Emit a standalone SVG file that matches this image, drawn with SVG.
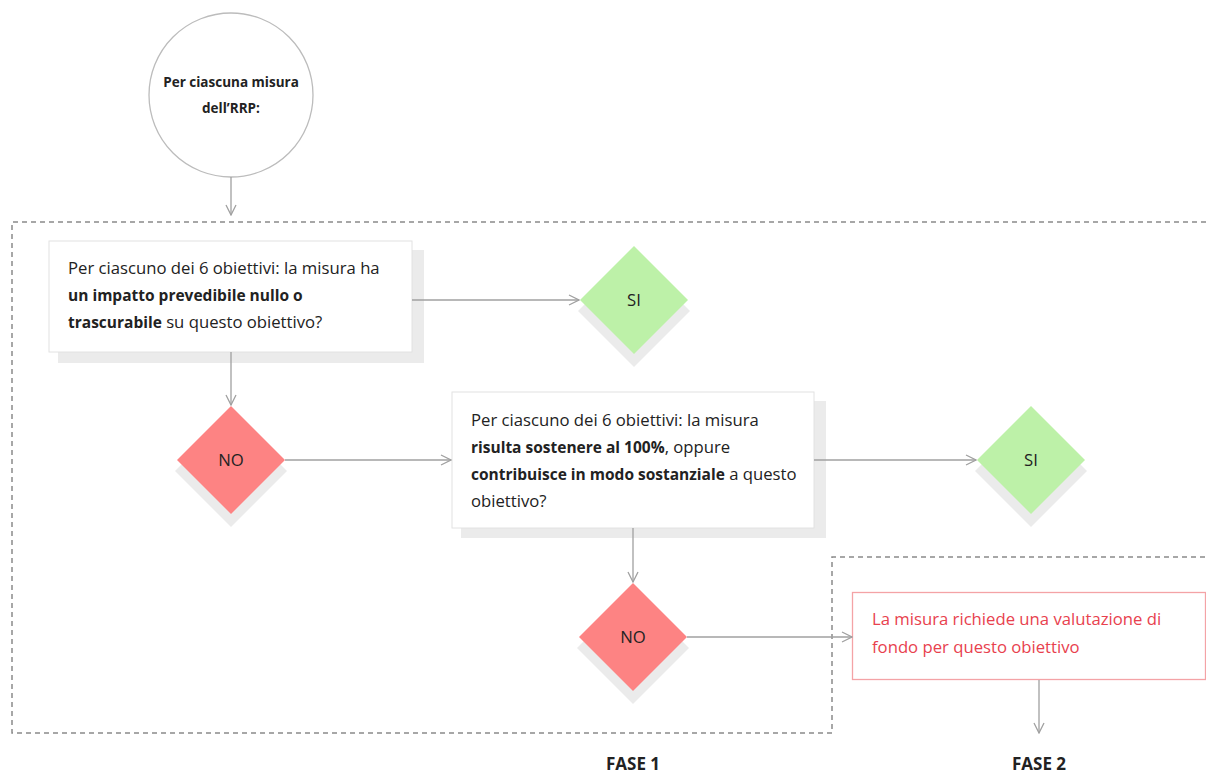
<svg xmlns="http://www.w3.org/2000/svg" width="1206" height="776" viewBox="0 0 1206 776">
<style>
.txt{font-family:"Open Sans","Liberation Sans",sans-serif;font-size:16.7px;fill:#222}
.b{font-weight:bold;font-size:15.5px}
.ctr{text-anchor:middle}
.conn{stroke:#a0a0a0;stroke-width:1.3;fill:none}
.dash{stroke:#8a8a8a;stroke-width:1.5;fill:none;stroke-dasharray:5 4}
.shadow{fill:#ebebeb}
.box{fill:#fff;stroke:#e2e2e2;stroke-width:1}
.si{fill:#bdf1a8}
.no{fill:#fd8383}
.red{fill:#e8414e}
</style>
<defs>
<marker id="arr" viewBox="0 0 12 12" refX="11" refY="6" markerWidth="12" markerHeight="12" markerUnits="userSpaceOnUse" orient="auto">
<path d="M1,1 L11,6 L1,11" fill="none" stroke="#a0a0a0" stroke-width="1.3"/>
</marker>
</defs>
<rect width="1206" height="776" fill="#fff"/>

<g id="phases">
<path class="dash" d="M1206,222 L12,222 L12,733 L832,733 L832,557 L1206,557"/>
<text class="txt b ctr" x="633" y="770" style="font-size:17px">FASE 1</text>
<text class="txt b ctr" x="1039" y="770" style="font-size:17px">FASE 2</text>
</g>

<g id="start">
<circle cx="231" cy="95" r="82" fill="#fff" stroke="#bcbcbc" stroke-width="1.3"/>
<text class="txt b ctr" x="231" y="87" style="font-size:13.5px">Per ciascuna misura</text>
<text class="txt b ctr" x="231" y="113" style="font-size:13.5px">dell’RRP:</text>
</g>

<g id="q1">
<rect class="shadow" x="58" y="250" width="366" height="113"/>
<rect class="box" x="49" y="241" width="363" height="111"/>
<text class="txt" x="68" y="274">Per ciascuno dei 6 obiettivi: la misura ha</text>
<text class="txt b" x="68" y="301">un impatto prevedibile nullo o</text>
<text class="txt" x="68" y="328"><tspan class="b">trascurabile</tspan> su questo obiettivo?</text>
</g>

<g id="si1">
<polygon class="shadow" points="634,255 690,311 634,367 578,311"/>
<polygon class="si" points="634,246 688,300 634,354 580,300"/>
<text class="txt ctr" x="634" y="306">SI</text>
</g>

<g id="no1">
<polygon class="shadow" points="231,415 287,471 231,527 175,471"/>
<polygon class="no" points="231,406 285,460 231,514 177,460"/>
<text class="txt ctr" x="231" y="466">NO</text>
</g>

<g id="q2">
<rect class="shadow" x="461" y="401" width="365" height="137"/>
<rect class="box" x="452" y="392" width="362" height="136"/>
<text class="txt" x="471" y="426">Per ciascuno dei 6 obiettivi: la misura</text>
<text class="txt" x="471" y="453"><tspan class="b">risulta sostenere al 100%</tspan>, oppure</text>
<text class="txt" x="471" y="480"><tspan class="b">contribuisce in modo sostanziale</tspan> a questo</text>
<text class="txt" x="471" y="507">obiettivo?</text>
</g>

<g id="si2">
<polygon class="shadow" points="1031,415 1087,471 1031,527 975,471"/>
<polygon class="si" points="1031,406 1085,460 1031,514 977,460"/>
<text class="txt ctr" x="1031" y="466">SI</text>
</g>

<g id="no2">
<polygon class="shadow" points="633,592 689,648 633,704 577,648"/>
<polygon class="no" points="633,583 687,637 633,691 579,637"/>
<text class="txt ctr" x="633" y="643">NO</text>
</g>

<g id="valutazione">
<rect x="852.5" y="592.5" width="353" height="87" fill="#fff" stroke="#f4a3a6" stroke-width="1.3"/>
<text class="txt red" x="872" y="625">La misura richiede una valutazione di</text>
<text class="txt red" x="872" y="653">fondo per questo obiettivo</text>
</g>

<g id="connectors">
<line class="conn" x1="231" y1="177" x2="231" y2="215" marker-end="url(#arr)"/>
<line class="conn" x1="412" y1="300" x2="579" y2="300" marker-end="url(#arr)"/>
<line class="conn" x1="231" y1="352" x2="231" y2="405" marker-end="url(#arr)"/>
<line class="conn" x1="285" y1="460" x2="451" y2="460" marker-end="url(#arr)"/>
<line class="conn" x1="814" y1="460" x2="976" y2="460" marker-end="url(#arr)"/>
<line class="conn" x1="633" y1="528" x2="633" y2="582" marker-end="url(#arr)"/>
<line class="conn" x1="687" y1="637" x2="852" y2="637" marker-end="url(#arr)"/>
<line class="conn" x1="1039" y1="680" x2="1039" y2="733" marker-end="url(#arr)"/>
</g>
</svg>
